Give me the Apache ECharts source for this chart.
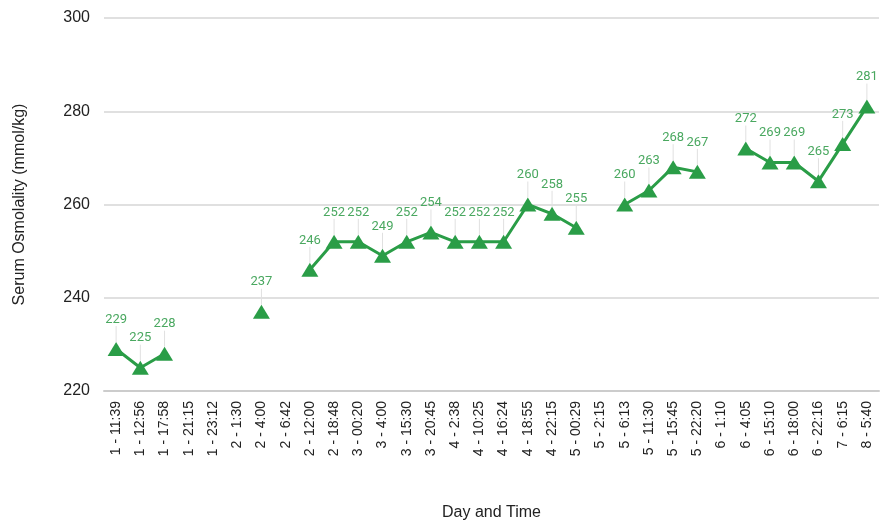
<!DOCTYPE html>
<html>
<head>
<meta charset="utf-8">
<script src="https://cdn.jsdelivr.net/npm/echarts@6/dist/echarts.min.js"></script>
<style>
  html, body { margin: 0; padding: 0; background: #fff; }
  #chart { width: 880px; height: 524px; }
</style>
</head>
<body>
<div id="chart"></div>
<script>
const categories = [
  '1 - 11:39', '1 - 12:56', '1 - 17:58', '1 - 21:15', '1 - 23:12', '2 - 1:30', '2 - 4:00', '2 - 6:42',
  '2 - 12:00', '2 - 18:48', '3 - 00:20', '3 - 4:00', '3 - 15:30', '3 - 20:45', '4 - 2:38', '4 - 10:25',
  '4 - 16:24', '4 - 18:55', '4 - 22:15', '5 - 00:29', '5 - 2:15', '5 - 6:13', '5 - 11:30', '5 - 15:45',
  '5 - 22:20', '6 - 1:10', '6 - 4:05', '6 - 15:10', '6 - 18:00', '6 - 22:16', '7 - 6:15', '8 - 5:40'
];
const osmolality = [
  229, 225, 228, null, null, null, 237, null,
  246, 252, 252, 249, 252, 254, 252, 252,
  252, 260, 258, 255, null, 260, 263, 268,
  267, null, 272, 269, 269, 265, 273, 281
];
const yTicks = { min: 220, max: 300, interval: 20 };

const chart = echarts.init(document.getElementById('chart'));
chart.setOption({
  animation: false,
  grid: { left: 104, right: 1, top: 18, bottom: 133, outerBoundsMode: 'none' },
  xAxis: {
    type: 'category',
    data: categories,
    name: 'Day and Time',
    nameLocation: 'middle',
    nameGap: 114,
    nameTextStyle: { color: '#222', fontSize: 16, fontFamily: 'Liberation Sans' },
    axisLine: { show: true, lineStyle: { color: '#ccc', width: 2 } },
    axisTick: { show: false },
    axisLabel: {
      rotate: 90, interval: 0, color: '#222', fontSize: 14,
      fontFamily: 'Liberation Sans', margin: 10
    }
  },
  yAxis: {
    type: 'value',
    min: yTicks.min, max: yTicks.max, interval: yTicks.interval,
    name: 'Serum Osmolality (mmol/kg)',
    nameLocation: 'middle',
    nameGap: 76,
    nameTextStyle: { color: '#222', fontSize: 16, fontFamily: 'Liberation Sans' },
    axisLine: { show: false },
    axisTick: { show: false },
    axisLabel: { color: '#222', fontSize: 16, fontFamily: 'Liberation Sans', margin: 14 },
    splitLine: { lineStyle: { color: '#d6d6d6', width: 1.5 } }
  },
  series: [{
    type: 'line',
    data: osmolality,
    connectNulls: false,
    symbol: 'triangle',
    symbolSize: [17, 14],
    itemStyle: { color: '#2a9d47' },
    lineStyle: { color: '#2a9d47', width: 3 },
    label: {
      show: true, position: 'top', distance: 4,
      color: '#4aa860', fontSize: 13, fontFamily: 'Roboto'
    },
    labelLayout: { dy: -12 },
    labelLine: { show: true, lineStyle: { color: '#e0e0e0', width: 1 } }
  }]
});
</script>
</body>
</html>
